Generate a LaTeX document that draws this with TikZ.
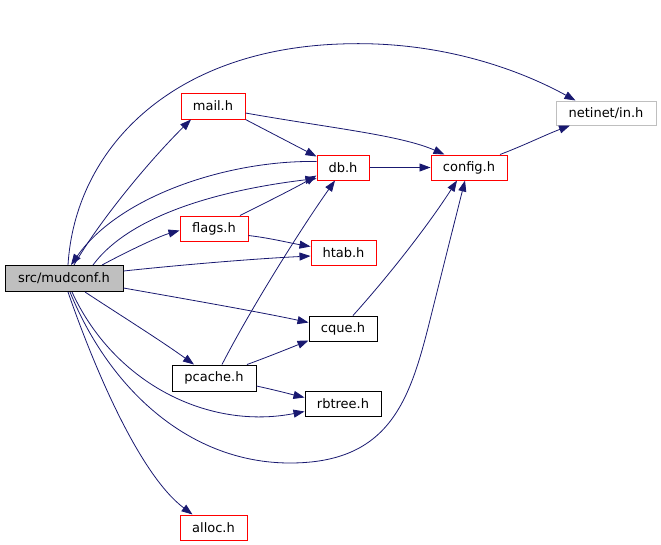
\documentclass[tikz,border=0pt]{standalone}
\usepackage{fontspec}
\setmainfont{DejaVu Sans}
\usetikzlibrary{arrows.meta,calc}
\definecolor{edgeblue}{RGB}{25,25,112}
\definecolor{boxgray}{RGB}{191,191,191}
\begin{document}
\begin{tikzpicture}[x=0.75pt,y=-0.75pt,
  font=\fontsize{9.75}{11}\selectfont,
  file/.style={draw, line width=0.75pt, inner sep=0pt, minimum height=18.75pt},
  redfile/.style={file, draw=red},
  blackfile/.style={file, draw=black},
  grayfile/.style={file, draw=boxgray},
  edge/.style={draw=edgeblue, line width=0.6pt, -{Triangle[length=8.25pt,width=6pt]}, fill=none},
]
\useasboundingbox (0,0) rectangle (661,544);
% nodes
\node[file, draw=black, fill=boxgray, minimum width=88.5pt, minimum height=19.5pt] (mudconf) at (64,278.5) {src/mudconf.h};
\node[redfile, minimum width=48pt, minimum height=19.5pt] (mail) at (213,106) {mail.h};
\node[redfile, minimum width=39pt] (db) at (343,167.5) {db.h};
\node[redfile, minimum width=51pt] (flags) at (214,228.5) {flags.h};
\node[redfile, minimum width=48.75pt] (htab) at (343.5,252.5) {htab.h};
\node[redfile, minimum width=57pt] (config) at (469,167.5) {config.h};
\node[grayfile, minimum width=75pt, minimum height=18pt] (netinet) at (606,113) {netinet/in.h};
\node[blackfile, minimum width=51pt] (cque) at (343,328.5) {cque.h};
\node[blackfile, minimum width=63pt, minimum height=19.5pt] (pcache) at (214,378) {pcache.h};
\node[blackfile, minimum width=57pt] (rbtree) at (343,403.5) {rbtree.h};
\node[redfile, minimum width=50.25pt] (alloc) at (213.5,527.5) {alloc.h};
% edges
\draw[edge] ($(mudconf.north)+(4,0)$) .. controls (75,150) and (170,50) .. (340,44) .. controls (440,40) and (520,70) .. ($(netinet.north west)+(20,0)$);
\draw[edge] ($(mudconf.north)+(10,0)$) .. controls (100,220) and (150,160) .. ($(mail.south)+(-22,0)$);
\draw[edge] ($(db.west)+(0,-6)$) .. controls (230,160) and (120,195) .. ($(mudconf.north)+(7,0)$);
\draw[edge] ($(mudconf.north)+(29,0)$) .. controls (130,215) and (220,190) .. ($(db.west)+(0,11)$);
\draw[edge] ($(mudconf.north)+(38,0)$) .. controls (130,250) and (160,236) .. ($(flags.west)+(0,2)$);
\draw[edge] ($(flags.north)+(26,0)$) .. controls (265,203) and (295,188) .. ($(db.west)+(0,8)$);
\draw[edge] (mail.south east) -- ($(db.west)+(0,-11)$);
\draw[edge] ($(mail.east)+(0,7)$) .. controls (330,128) and (400,135) .. ($(config.north west)+(14,0)$);
\draw[edge] (db.east) -- (config.west);
\draw[edge] ($(config.north)+(31,0)$) .. controls (525,145) and (545,135) .. ($(netinet.south)+(-36,0)$);
\draw[edge] ($(flags.east)+(0,7)$) .. controls (270,238) and (290,243) .. ($(htab.west)+(0,-6)$);
\draw[edge] ($(mudconf.east)+(0,-7.5)$) .. controls (180,265) and (250,259) .. ($(htab.west)+(0,3.5)$);
\draw[edge] ($(mudconf.east)+(0,9.5)$) .. controls (180,298) and (260,312) .. ($(cque.west)+(0,-6)$);
\draw[edge] ($(cque.north)+(10,0)$) .. controls (385,280) and (425,230) .. ($(config.south)+(-12,0)$);
\draw[edge] ($(mudconf.south)+(21,0)$) .. controls (120,315) and (160,340) .. ($(pcache.north)+(-20,0)$);
\draw[edge] ($(pcache.north)+(8,0)$) .. controls (250,310) and (300,230) .. ($(db.south)+(-8,0)$);
\draw[edge] ($(pcache.north)+(33,0)$) .. controls (265,358) and (290,348) .. ($(cque.west)+(0,12)$);
\draw[edge] ($(pcache.east)+(0,8)$) .. controls (275,390) and (290,394) .. ($(rbtree.west)+(0,-6)$);
\draw[edge] ($(mudconf.south)+(8,0)$) .. controls (115,385) and (210,430) .. ($(rbtree.west)+(0,8)$);
\draw[edge] ($(mudconf.south)+(6,0)$) .. controls (110,390) and (190,463) .. (290,463) .. controls (390,463) and (410,400) .. (430,320) .. controls (445,260) and (455,220) .. ($(config.south)+(-4,0)$);
\draw[edge] ($(mudconf.south)+(4,0)$) .. controls (95,370) and (140,475) .. ($(alloc.north)+(-21,0)$);
\end{tikzpicture}
\end{document}
